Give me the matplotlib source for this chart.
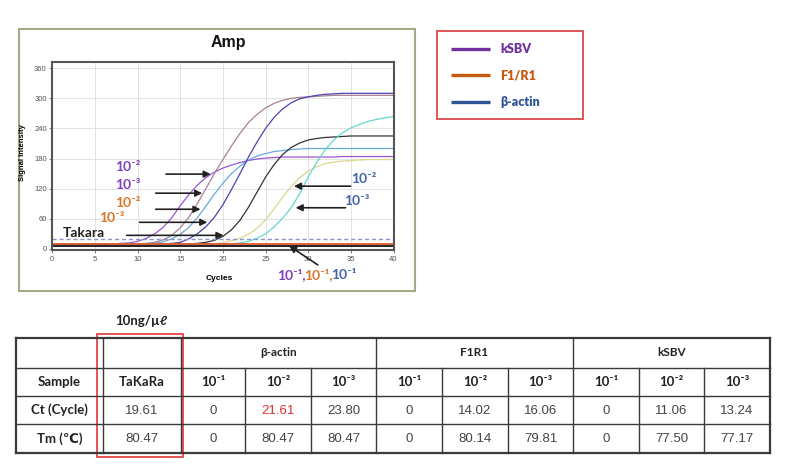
import matplotlib
matplotlib.use("Agg")
import matplotlib.pyplot as plt
from matplotlib.patches import Rectangle

# amplification curves, signal per cycle
cycles = list(range(41))
ksbv_1e2 = [10, 10, 10, 10, 10, 10, 10, 10, 11, 12, 15, 21, 30, 43, 62, 86, 108, 127, 142, 153, 161,
            167, 172, 176, 179, 181, 182, 183, 183, 183, 183, 183, 183, 183, 184, 184, 184, 184, 184, 184, 184]
ksbv_1e3 = [10, 10, 10, 10, 10, 10, 10, 10, 10, 10, 10, 11, 13, 18, 27, 42, 63, 90, 120, 150, 178,
            205, 230, 252, 268, 281, 290, 296, 300, 302, 303, 304, 305, 306, 306, 306, 306, 306, 306, 306, 306]
f1r1_1e2 = [10, 10, 10, 10, 10, 10, 10, 10, 10, 10, 10, 10, 11, 14, 20, 29, 43, 62, 85, 109, 131,
            150, 165, 177, 185, 190, 194, 196, 198, 199, 200, 200, 200, 200, 200, 200, 200, 200, 200, 200, 200]
f1r1_1e3 = [10, 10, 10, 10, 10, 10, 10, 10, 10, 10, 10, 10, 10, 10, 11, 13, 20, 30, 44, 63, 88,
            118, 150, 183, 213, 240, 262, 279, 291, 299, 303, 306, 308, 309, 310, 310, 310, 310, 310, 310, 310]
takara = [10, 10, 10, 10, 10, 10, 10, 10, 10, 10, 10, 10, 10, 10, 10, 10, 10, 11, 13, 17, 25,
          38, 57, 83, 113, 143, 168, 188, 202, 211, 217, 220, 222, 223, 224, 225, 225, 225, 225, 225, 225]
actin_1e2 = [10, 10, 10, 10, 10, 10, 10, 10, 10, 10, 10, 10, 10, 10, 10, 10, 10, 10, 10, 10, 12,
             16, 21, 29, 41, 58, 80, 103, 124, 142, 155, 164, 170, 173, 175, 176, 177, 178, 178, 178, 178]
actin_1e3 = [10, 10, 10, 10, 10, 10, 10, 10, 10, 10, 10, 10, 10, 10, 10, 10, 10, 10, 10, 10, 10,
             10, 12, 15, 21, 30, 44, 61, 82, 110, 143, 173, 198, 217, 231, 241, 248, 254, 258, 261, 264]
neg_orange = 10
neg_black = 5
threshold = 20

curves = [(ksbv_1e2, '#9a55d4'), (ksbv_1e3, '#a88292'), (f1r1_1e2, '#6aa9dc'),
          (f1r1_1e3, '#4e44b0'), (takara, '#333333'), (actin_1e2, '#dcd68e'), (actin_1e3, '#62d9d0')]

# table
row_labels = ["Sample", "Ct (Cycle)", "Tm (\u2103)"]
groups = ["\u03b2-actin", "F1R1", "kSBV"]
dilutions = ["10\u207b\u00b9", "10\u207b\u00b2", "10\u207b\u00b3"]
ct_values = ["19.61", "0", "21.61", "23.80", "0", "14.02", "16.06", "0", "11.06", "13.24"]
tm_values = ["80.47", "0", "80.47", "80.47", "0", "80.14", "79.81", "0", "77.50", "77.17"]

legend_names = ["kSBV", "F1/R1", "\u03b2-actin"]
legend_colors = ['#7030a0', '#c55a11', '#2f5597']

BOLD = ['Lato', 'DejaVu Sans']
NARROW = ['Liberation Sans Narrow', 'Liberation Sans', 'DejaVu Sans']

fig = plt.figure(figsize=(7.9, 4.67), dpi=100)

# overlay in pixel coordinates for boxes and the table
ov = fig.add_axes([0, 0, 1, 1], zorder=0)
ov.set_xlim(0, 790)
ov.set_ylim(467, 0)
ov.axis('off')

ov.add_patch(Rectangle((19, 29), 396, 262, fill=False, ec='#a5aa86', lw=1.5))

# legend box
ov.add_patch(Rectangle((437, 31), 146, 88, fill=False, ec='#e05555', lw=1.4))
for i, (name, col) in enumerate(zip(legend_names, legend_colors)):
    yy = 49 + i * 26.3
    ov.plot([451, 490], [yy, yy], color=col, lw=2.4, solid_capstyle='butt')
    ov.text(500, yy, name, color=col, fontsize=9, fontweight='heavy', family=BOLD, va='center')

# table grid
col_x = [16, 103, 181, 245, 311, 376, 442, 508, 573, 639, 704, 770]
row_y = [338, 368, 396, 424, 453]
for y in row_y:
    lw = 1.6 if y in (row_y[0], row_y[-1]) else 1.0
    ov.plot([col_x[0], col_x[-1]], [y, y], color='#3a3a3a', lw=lw)
for i, x in enumerate(col_x):
    top = row_y[0] if x in (16, 103, 181, 376, 573, 770) else row_y[1]
    lw = 1.6 if i in (0, len(col_x) - 1) else 1.0
    ov.plot([x, x], [top, row_y[-1]], color='#3a3a3a', lw=lw)

def cx(i):
    return (col_x[i] + col_x[i + 1]) / 2

def cy(j):
    return (row_y[j] + row_y[j + 1]) / 2

for g, name in enumerate(groups):
    ov.text((col_x[2 + 3 * g] + col_x[5 + 3 * g]) / 2, cy(0), name, fontsize=8.5,
            fontweight='bold', family=BOLD, ha='center', va='center', color='#222222')
for j, lab in enumerate(row_labels):
    ov.text(cx(0), cy(j + 1), lab, fontsize=9.5, fontweight='bold', family=BOLD,
            ha='center', va='center', color='#222222')
ov.text(cx(1), cy(1), "TaKaRa", fontsize=9.5, fontweight='bold', family=BOLD,
        ha='center', va='center', color='#222222')
for k in range(9):
    ov.text(cx(2 + k), cy(1), dilutions[k % 3], fontsize=9.5, fontweight='bold', family=BOLD,
            ha='center', va='center', color='#222222')
for k in range(10):
    col = '#e03030' if ct_values[k] == "21.61" else '#444444'
    ov.text(cx(1 + k), cy(2) + 1, ct_values[k], fontsize=9.5, family=NARROW,
            ha='center', va='center', color=col)
    ov.text(cx(1 + k), cy(3) + 1, tm_values[k], fontsize=9.5, family=NARROW,
            ha='center', va='center', color='#444444')

ov.add_patch(Rectangle((97, 334), 86, 123, fill=False, ec='#e03535', lw=1.2))
ov.text(141, 321, "10ng/\u00b5\u2113", fontsize=9.5, fontweight='bold', family=BOLD,
        ha='center', va='center', color='#222222')

# amplification plot
ax = fig.add_axes([52.3 / 790, (467 - 250.4) / 467, 341.2 / 790, 188.7 / 467], zorder=1)
for vals, col in curves:
    ax.plot(cycles, vals, color=col, lw=0.9)
ax.axhline(threshold, color='#8c94cc', lw=1.0, ls=(0, (3, 2)))
ax.axhline(neg_orange, color='#e0552a', lw=1.3)
ax.axhline(neg_black, color='#111111', lw=1.3)

ax.set_xlim(0, 40)
ax.set_ylim(-3, 373)
ax.set_xticks(range(0, 41, 5))
ax.set_yticks(range(0, 361, 60))
ax.grid(color='#dedede', lw=0.6)
ax.set_axisbelow(True)
for s in ax.spines.values():
    s.set_color('#555555')
    s.set_linewidth(1.5)
ax.tick_params(length=2, width=0.6, color='#666666', labelsize=5.5, labelcolor='#555555', pad=2)
for lab in ax.get_xticklabels() + ax.get_yticklabels():
    lab.set_family(NARROW)

ax.set_ylabel("Signal Intensity", fontsize=5.5, fontweight='bold', family=NARROW)
ax.yaxis.set_label_coords(-0.077, 0.52)
ax.set_xlabel("Cycles", fontsize=6, fontweight='bold', family=NARROW)
ax.xaxis.set_label_coords(0.49, -0.13)
ax.text(0.515, 1.104, "Amp", transform=ax.transAxes, fontsize=11.5, fontweight='bold',
        family=NARROW, ha='center', va='center', color='#111111')

# labels and arrows
PURPLE, ORANGE, BLUE = '#7e3fc0', '#d9772a', '#4565a8'
labels = [(8.9, 164, "10\u207b\u00b2", PURPLE), (8.9, 127, "10\u207b\u00b3", PURPLE),
          (8.9, 91, "10\u207b\u00b2", ORANGE), (7.0, 62, "10\u207b\u00b3", ORANGE),
          (3.7, 31, "Takara", '#222222'), (36.5, 139, "10\u207b\u00b2", BLUE),
          (35.7, 96, "10\u207b\u00b3", BLUE)]
for x, y, t, c in labels:
    ax.text(x, y, t, color=c, fontsize=10, fontweight='bold', family=BOLD,
            ha='center', va='center', clip_on=False)

arrows = [((13.0, 149), (18.9, 149)), ((11.8, 111), (17.9, 111)), ((11.8, 79), (17.7, 79)),
          ((9.9, 53), (18.5, 53)), ((8.4, 27), (20.4, 27)), ((35.3, 125), (28.0, 125)),
          ((34.7, 82), (28.2, 82)), ((31.4, -35), (27.5, 9))]
for tail, tip in arrows:
    ax.annotate('', xy=tip, xytext=tail, annotation_clip=False,
                arrowprops=dict(arrowstyle='-|>', color='#222222', lw=1.2, mutation_scale=10))

for x, c, t in [(26.3, PURPLE, "10\u207b\u00b9,"), (29.5, ORANGE, "10\u207b\u00b9,"), (32.7, BLUE, "10\u207b\u00b9")]:
    ax.text(x, -52, t, color=c, fontsize=10, fontweight='bold', family=BOLD,
            ha='left', va='center', clip_on=False)

fig.savefig("out.png", dpi=100)
